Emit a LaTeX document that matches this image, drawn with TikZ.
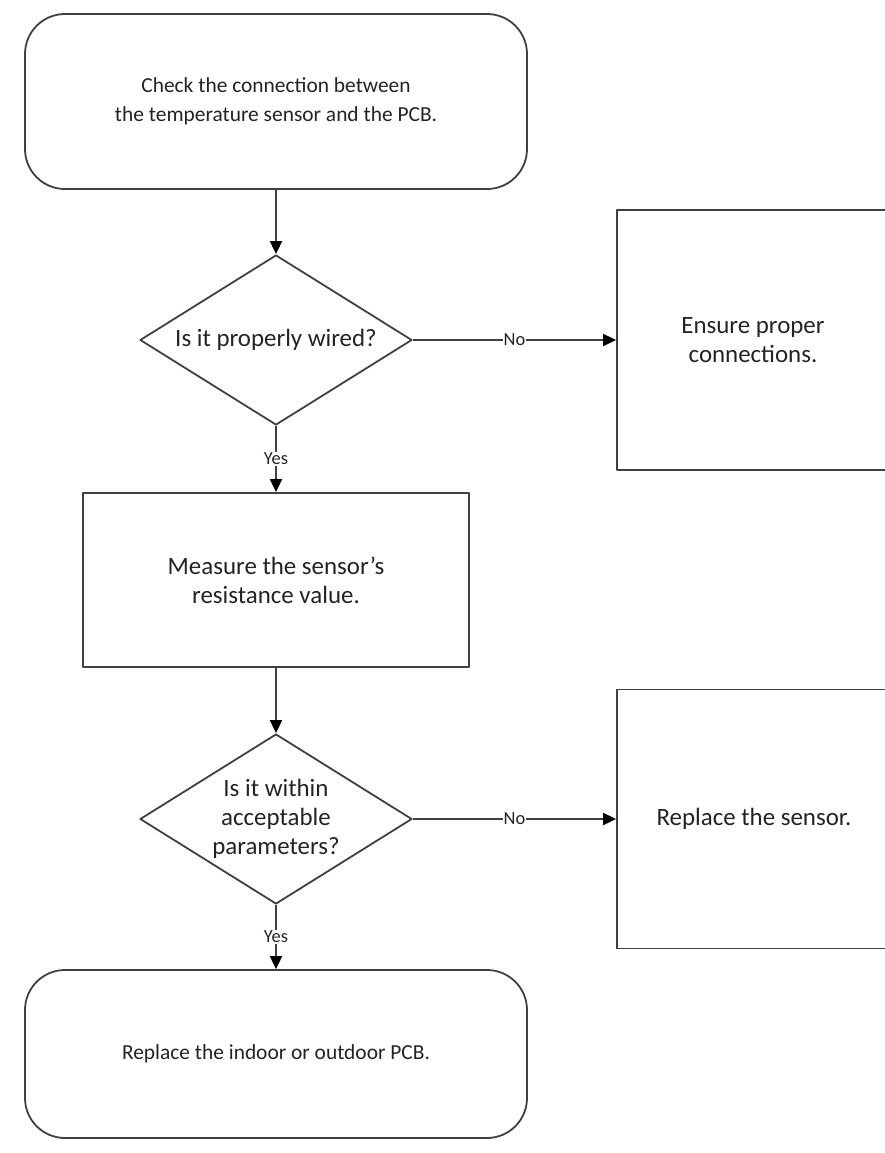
\documentclass[tikz,border=0pt]{standalone}
\usepackage{fontspec}
\setmainfont{Carlito}
\usepackage{tikz}
\usetikzlibrary{arrows.meta,shapes.geometric}
\definecolor{flowline}{RGB}{64,64,64}
\definecolor{flowtext}{RGB}{35,35,35}
\begin{document}
\begin{tikzpicture}[x=1bp,y=-1bp,line join=round,
  every node/.style={text=flowtext,inner sep=0pt},
  endbox/.style={draw=flowline,line width=1.8bp,rounded corners=40bp,align=center,
    minimum width=502bp,font=\fontsize{21.5}{29}\selectfont},
  stepbox/.style={draw=flowline,line width=1.8bp,align=center,font=\fontsize{25}{29}\selectfont},
  askbox/.style={draw=flowline,line width=1.8bp,diamond,aspect=1.6,align=center,
    minimum width=272bp,minimum height=170bp,font=\fontsize{25}{29}\selectfont},
  flow/.style={draw=flowline,line width=1.8bp,-{Triangle[length=13bp,width=12bp,color=black]}},
  answer/.style={fill=white,inner sep=1bp,font=\fontsize{18.5}{20}\selectfont}]
\useasboundingbox (0,0) rectangle (885,1153);
\clip (0,0) rectangle (885,1153);
% Glowna kolumna: sprawdzenie, pytania i pomiar.
\node[endbox,minimum height=175bp] (check) at (276,101.5)
  {Check the connection between\\the temperature sensor and the PCB.};
\node[askbox] (wired) at (276,340) {Is it properly wired?};
\node[stepbox,minimum width=386bp,minimum height=174bp] (measure) at (276,580)
  {Measure the sensor's\\resistance value.};
\node[askbox] (within) at (276,819) {Is it within\\acceptable\\parameters?};
\node[endbox,minimum height=168bp] (pcb) at (276,1054) {Replace the indoor or outdoor PCB.};
% Boczne kroki naprawy (wychodza poza prawy brzeg).
\node[stepbox,minimum width=272bp,minimum height=260bp] (wiring) at (753,340)
  {Ensure proper\\connections.};
\node[stepbox,minimum width=274bp,minimum height=259bp] (sensor) at (754,819)
  {Replace the sensor.};
\draw[flow] (check) -- (wired);
\draw[flow] (wired) -- (wiring) node[answer,midway] {No};
\draw[flow] (wired) -- (measure) node[answer,midway] {Yes};
\draw[flow] (measure) -- (within);
\draw[flow] (within) -- (sensor) node[answer,midway] {No};
\draw[flow] (within) -- (pcb) node[answer,midway] {Yes};
\end{tikzpicture}
\end{document}
